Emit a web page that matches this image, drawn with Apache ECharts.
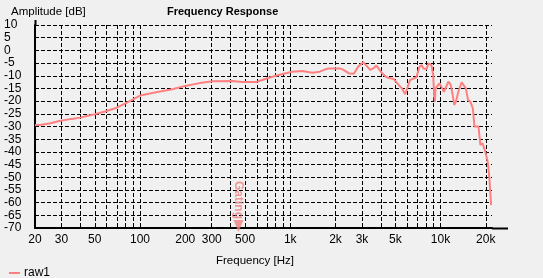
<!DOCTYPE html>
<html>
<head>
<meta charset="utf-8">
<script src="https://cdn.jsdelivr.net/npm/echarts@6/dist/echarts.min.js"></script>
<style>
html,body{margin:0;padding:0;background:#f0f0f0;}
#chart{width:543px;height:278px;}
</style>
</head>
<body>
<div id="chart"></div>
<script>
// Frequencies (Hz) and amplitude (dB)
var freqHz = [20,22,25,29,35,40,45,50,60,70,80,90,100,128,164,203,250,305,411,478,590,650,760,890,1030,1200,1400,1570,1740,1810,2130,2230,2460,2650,2830,3060,3230,3400,3560,3740,4080,4400,4880,5260,5530,5820,6260,6600,6900,7250,7500,7670,8070,8330,8490,8700,8930,9070,9170,9260,9530,9850,10150,10540,10810,11280,11690,12050,12340,12660,13130,13810,14160,14740,15250,15790,16400,16820,17250,17880,18420,19030,19860,20610,21140,21700];
var raw1Db = [-29.5,-29.3,-28.8,-27.8,-27.0,-26.5,-25.8,-25.2,-23.9,-22.6,-20.9,-19.3,-17.8,-16.5,-15.3,-13.9,-12.9,-12.2,-12.1,-12.5,-12.5,-11.7,-10.4,-9.3,-8.4,-8.1,-8.8,-8.4,-7.3,-7.1,-7.1,-7.5,-9.1,-9.2,-6.4,-4.7,-6.2,-7.7,-7.1,-6.0,-9.0,-10.7,-11.3,-13.6,-15.0,-17.3,-11.7,-11.1,-10.7,-6.4,-5.8,-7.1,-7.3,-5.1,-4.5,-5.8,-9.7,-17.6,-20.2,-15.0,-14.0,-13.0,-13.4,-16.3,-15.6,-12.3,-13.6,-17.6,-21.5,-20.2,-16.3,-12.6,-13.0,-15.0,-19.6,-20.2,-22.8,-30.0,-30.0,-30.0,-37.3,-36.6,-40.0,-43.9,-50.4,-61.0];
var xLabelValues = [20,30,50,100,200,300,500,1000,2000,3000,5000,10000,20000];
var xGridValues = [20,30,40,50,60,70,80,90,100,200,300,400,500,600,700,800,900,1000,2000,3000,4000,5000,6000,7000,8000,9000,10000,20000];
var gatingHz = 452;
var gatingDb = -70;

var raw1Data = freqHz.map(function(f,i){return [f, raw1Db[i]];});

var chart = echarts.init(document.getElementById('chart'), null, {renderer:'canvas'});
var FONT = 'Liberation Sans';
var dash = {color:'#000', width:1, type:[4,2]};
chart.setOption({
  backgroundColor:'#f0f0f0',
  animation:false,
  textStyle:{fontFamily:FONT},
  grid:{left:35, right:51, top:25, bottom:50, containLabel:false},
  title:{
    text:'Frequency Response', left:167, top:6, padding:0,
    textStyle:{fontFamily:FONT, fontSize:11, fontWeight:'bold', color:'#000'}
  },
  legend:{
    data:['raw1'], left:4, top:262, icon:'rect', itemWidth:11, itemHeight:2, itemGap:5,
    textStyle:{fontFamily:FONT, fontSize:12, color:'#000', padding:[0,0,0,-1]}
  },
  xAxis:{
    type:'log', logBase:10, min:20, max:22000,
    name:'Frequency [Hz]', nameLocation:'middle', nameGap:27,
    nameTextStyle:{fontFamily:FONT, fontSize:11.5, color:'#000', padding:[0,17,0,0]},
    axisLine:{show:true, onZero:false, lineStyle:{color:'#000', width:2}},
    axisTick:{show:false, customValues:xGridValues},
    axisLabel:{customValues:xLabelValues, color:'#000', fontSize:12, margin:6,
      formatter:function(v){return v>=1000 ? (v/1000)+'k' : String(v);}},
    splitLine:{show:true, lineStyle:dash},
    minorTick:{show:false}
  },
  yAxis:{
    type:'value', min:-70, max:10, interval:5,
    name:'Amplitude [dB]', nameLocation:'end', nameGap:7,
    nameTextStyle:{fontFamily:FONT, fontSize:11.5, color:'#000', align:'left', padding:[0,0,0,-24]},
    axisLine:{show:true, onZero:false, lineStyle:{color:'#000', width:2}},
    axisTick:{show:false},
    axisLabel:{color:'#000', fontSize:12, align:'left', margin:31},
    splitLine:{show:true, lineStyle:dash}
  },
  graphic:[
    {type:'line', shape:{x1:492, y1:228.5, x2:508, y2:228.5}, style:{stroke:'#000', lineWidth:2}, silent:true},
    {type:'line', shape:{x1:35.5, y1:20, x2:35.5, y2:25}, style:{stroke:'#000', lineWidth:2}, silent:true}
  ],
  series:[
    {
      name:'raw1', type:'line', data:raw1Data, showSymbol:false, symbol:'none',
      lineStyle:{color:'#ff8080', width:2}, itemStyle:{color:'#ff8080'}, z:3
    },
    {
      name:'Gating', type:'scatter', data:[[gatingHz, gatingDb]],
      symbol:'triangle', symbolRotate:180, symbolSize:[10,12], symbolOffset:[0,-2],
      itemStyle:{color:'#f08080'}, z:6,
      label:{show:true, formatter:'Gating', position:'top', distance:1, rotate:-90,
        align:'right', verticalAlign:'middle',
        color:'#f08080', fontSize:12, fontWeight:'bold', fontFamily:FONT}
    }
  ]
});
</script>
</body>
</html>
